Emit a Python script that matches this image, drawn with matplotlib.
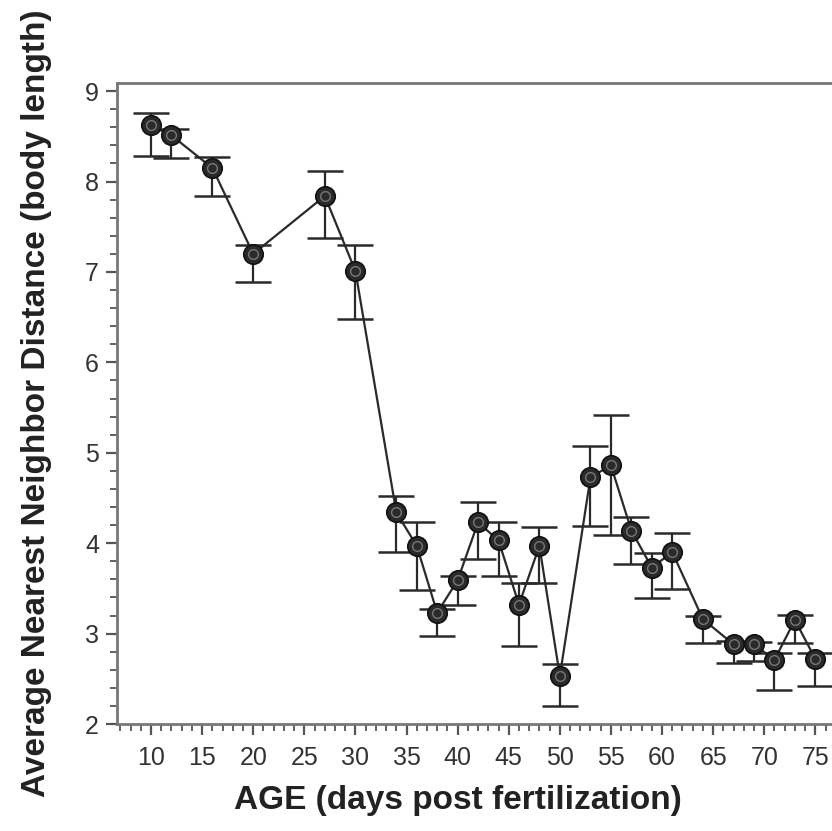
import matplotlib
matplotlib.use("Agg")
import matplotlib.pyplot as plt
from matplotlib.ticker import MultipleLocator
import numpy as np

plt.rcParams['font.family'] = ['Liberation Sans', 'DejaVu Sans']

age = [10, 12, 16, 20, 27, 30, 34, 36, 38, 40, 42, 44, 46, 48, 50,
       53, 55, 57, 59, 61, 64, 67, 69, 71, 73, 75]
mean = [8.62, 8.51, 8.15, 7.20, 7.84, 7.01, 4.34, 3.97, 3.23, 3.59, 4.23, 4.03, 3.32, 3.97, 2.53,
        4.73, 4.86, 4.14, 3.73, 3.90, 3.16, 2.88, 2.88, 2.71, 3.15, 2.72]
upper = [8.76, 8.58, 8.27, 7.30, 8.12, 7.30, 4.52, 4.23, 3.27, 3.64, 4.45, 4.23, 3.56, 4.18, 2.66,
         5.07, 5.42, 4.29, 3.89, 4.11, 3.20, 2.92, 2.91, 2.78, 3.21, 2.78]
lower = [8.28, 8.26, 7.84, 6.89, 7.38, 6.48, 3.90, 3.48, 2.97, 3.32, 3.83, 3.64, 2.86, 3.56, 2.20,
         4.19, 4.09, 3.77, 3.39, 3.49, 2.90, 2.67, 2.70, 2.38, 2.90, 2.42]

x_ticks = [10, 15, 20, 25, 30, 35, 40, 45, 50, 55, 60, 65, 70, 75]
y_ticks = [2, 3, 4, 5, 6, 7, 8, 9]

fig = plt.figure(figsize=(8.32, 8.31), dpi=100)
ax = fig.add_axes([117/832, 1 - 724/831, (846-117)/832, (724-83)/831])

m = np.array(mean)
yerr = [m - np.array(lower), np.array(upper) - m]

ax.errorbar(age, mean, yerr=yerr, fmt='none', ecolor='#2a2a2a', elinewidth=1.6,
            capsize=13, capthick=1.8, zorder=2)
ax.plot(age, mean, '-', color='#2a2a2a', lw=1.6, zorder=3)
ax.plot(age, mean, 'o', ms=14, mfc='#2a2a2a', mec='#111111', mew=1.2, zorder=4)
ax.plot(age, mean, 'o', ms=7, mfc='none', mec='#777777', mew=1.0, zorder=5)

ax.set_xlim(6.67, 78)
ax.set_ylim(2, 9.09)
ax.set_xticks(x_ticks)
ax.set_yticks(y_ticks)
ax.xaxis.set_minor_locator(MultipleLocator(1))
ax.yaxis.set_minor_locator(MultipleLocator(0.2))

for s in ['left', 'bottom', 'top']:
    ax.spines[s].set_color('#777777')
    ax.spines[s].set_linewidth(2)
ax.spines['right'].set_visible(False)

ax.tick_params(axis='both', which='major', direction='out', length=8, width=1.6,
               color='#555555', labelsize=18, labelcolor='#333333')
ax.tick_params(axis='y', which='major', pad=5)
ax.tick_params(axis='x', which='major', pad=8)
ax.tick_params(axis='both', which='minor', direction='out', length=5, width=1.3,
               color='#555555')

ax.set_xlabel('AGE (days post fertilization)', fontsize=24, fontweight='bold',
              color='#222222')
ax.set_ylabel('Average Nearest Neighbor Distance (body length)', fontsize=24,
              fontweight='bold', color='#222222')
ax.xaxis.set_label_coords((458 - 117) / 729, -(785 - 724) / 641)
ax.yaxis.set_label_coords(-(117 - 52) / 729, 0.5)

fig.savefig('out.png', dpi=100)
